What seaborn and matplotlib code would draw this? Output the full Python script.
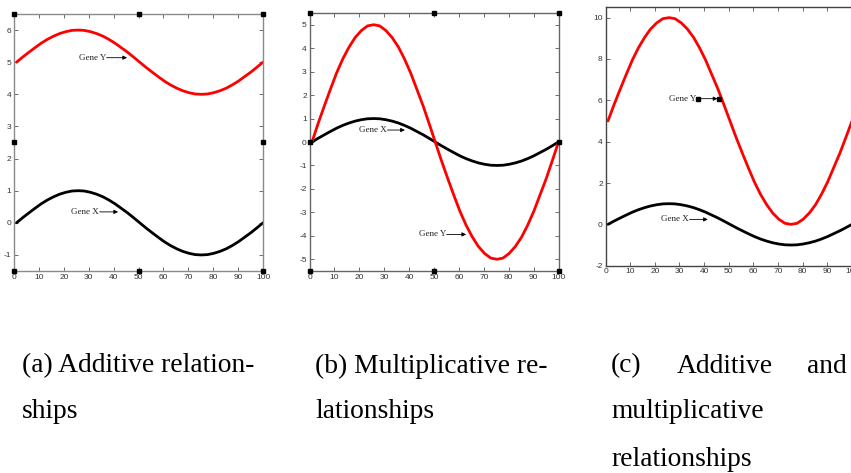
import numpy as np
import pandas as pd
import matplotlib
matplotlib.use("Agg")
import matplotlib.pyplot as plt
import seaborn as sns

# ---- data ----
time_points = [1, 3.5, 6, 8.4, 10.9, 13.4, 15.9, 18.3, 20.8, 23.3, 25.8, 28.2, 30.7,
               33.2, 35.7, 38.1, 40.6, 43.1, 45.6, 48.0, 50.5, 53.0, 55.5, 57.9, 60.4,
               62.9, 65.4, 67.8, 70.3, 72.8, 75.3, 77.7, 80.2, 82.7, 85.2, 87.6, 90.1,
               92.6, 95.1, 97.5, 100]

gene_x = [0, .16, .31, .45, .59, .71, .81, .89, .95, .99, 1, .99, .95, .89, .81, .71,
          .59, .45, .31, .16, 0, -.16, -.31, -.45, -.59, -.71, -.81, -.89, -.95, -.99,
          -1, -.99, -.95, -.89, -.81, -.71, -.59, -.45, -.31, -.16, 0]

gene_y_additive = [5, 5.16, 5.31, 5.45, 5.59, 5.71, 5.81, 5.89, 5.95, 5.99, 6, 5.99,
                   5.95, 5.89, 5.81, 5.71, 5.59, 5.45, 5.31, 5.16, 5, 4.84, 4.69, 4.55,
                   4.41, 4.29, 4.19, 4.11, 4.05, 4.01, 4, 4.01, 4.05, 4.11, 4.19, 4.29,
                   4.41, 4.55, 4.69, 4.84, 5]

gene_y_mult = [0, .8, 1.55, 2.25, 2.95, 3.55, 4.05, 4.45, 4.75, 4.95, 5, 4.95, 4.75,
               4.45, 4.05, 3.55, 2.95, 2.25, 1.55, .8, 0, -.8, -1.55, -2.25, -2.95,
               -3.55, -4.05, -4.45, -4.75, -4.95, -5, -4.95, -4.75, -4.45, -4.05, -3.55,
               -2.95, -2.25, -1.55, -.8, 0]

gene_y_both = [5, 5.8, 6.55, 7.25, 7.95, 8.55, 9.05, 9.45, 9.75, 9.95, 10, 9.95, 9.75,
               9.45, 9.05, 8.55, 7.95, 7.25, 6.55, 5.8, 5, 4.2, 3.45, 2.75, 2.05, 1.45,
               .95, .55, .25, .05, 0, .05, .25, .55, .95, 1.45, 2.05, 2.75, 3.45, 4.2, 5]

x_ticks = [0, 10, 20, 30, 40, 50, 60, 70, 80, 90, 100]
y_ticks_a = [-1, 0, 1, 2, 3, 4, 5, 6]
y_ticks_b = [-5, -4, -3, -2, -1, 0, 1, 2, 3, 4, 5]
y_ticks_c = [-2, 0, 2, 4, 6, 8, 10]

captions_a = ["(a) Additive relation-", "ships"]
captions_b = ["(b) Multiplicative re-", "lationships"]
captions_c_first = ["(c)", "Additive", "and"]
captions_c_rest = ["multiplicative", "relationships"]

sns.set_style("ticks")
plt.rcParams["font.family"] = ["Liberation Sans", "DejaVu Sans"]
plt.rcParams["axes.unicode_minus"] = False

W, H = 851, 473
fig = plt.figure(figsize=(W / 100, H / 100), dpi=100)

def px_axes(left, top, right, bottom):
    return fig.add_axes([left / W, 1 - bottom / H, (right - left) / W, (bottom - top) / H])

ax_a = px_axes(14, 14, 263, 271)
ax_b = px_axes(309.5, 13, 558.5, 271)
ax_c = px_axes(605.5, 7.3, 852, 265.7)

panels = [
    (ax_a, gene_y_additive, (-1.5, 6.5), y_ticks_a, "#8a8a8a", True),
    (ax_b, gene_y_mult, (-5.5, 5.5), y_ticks_b, "#666666", True),
    (ax_c, gene_y_both, (-2, 10.5), y_ticks_c, "#444444", False),
]

for ax, gy, ylim, yt, spc, right_ticks in panels:
    df = pd.DataFrame({"t": time_points, "X": gene_x, "Y": gy})
    sns.lineplot(data=df, x="t", y="X", color="black", lw=2.0, ax=ax)
    sns.lineplot(data=df, x="t", y="Y", color="#ff0000", lw=2.0, ax=ax)
    ax.set_xlim(0, 100)
    ax.set_ylim(*ylim)
    ax.set_xticks(x_ticks)
    ax.set_yticks(yt)
    ax.set_xlabel("")
    ax.set_ylabel("")
    ax.tick_params(direction="in", length=3, width=0.6, colors="#555555",
                   labelsize=6, labelcolor="#333333", pad=2,
                   top=True, right=right_ticks)
    for s in ax.spines.values():
        s.set_color(spc)
        s.set_linewidth(1.0)
        s.set_visible(True)

# selection-handle squares on panels a and b (decorations)
for ax in (ax_a, ax_b):
    for hx, hy in [(0, 0), (0.5, 0), (1, 0), (0, 0.5), (1, 0.5), (0, 1), (0.5, 1), (1, 1)]:
        ax.plot([hx], [hy], marker="s", ms=3.2, color="black", transform=ax.transAxes,
                clip_on=False, zorder=5)

serif = ["Liberation Serif", "DejaVu Serif"]

def gene_label(ax, name, text_end_x, arrow_end_x, y, handles=False):
    ax.text(text_end_x, y, name, ha="right", va="center", fontsize=6.5,
            family=serif, color="#222222")
    ax.annotate("", xy=(arrow_end_x, y), xytext=(text_end_x + 0.3, y),
                arrowprops=dict(arrowstyle="-|>", color="black", lw=0.6,
                                mutation_scale=6, shrinkA=0, shrinkB=0))
    if handles:
        ax.plot([text_end_x + 0.5, arrow_end_x + 0.5], [y, y], ls="none", marker="s",
                ms=2.5, color="black")

gene_label(ax_a, "Gene Y", 36.9, 45.4, 5.14)
gene_label(ax_a, "Gene X", 34.1, 41.8, 0.34)
gene_label(ax_b, "Gene X", 31.0, 38.3, 0.51)
gene_label(ax_b, "Gene Y", 54.8, 62.9, -3.94)
gene_label(ax_c, "Gene Y", 37.0, 45.4, 6.08, handles=True)
gene_label(ax_c, "Gene X", 33.8, 41.5, 0.24)

# captions
cap_fs = 19.8
def cap(x, y, s, ha="left"):
    fig.text(x / W, 1 - y / H, s, ha=ha, va="center", fontsize=cap_fs, family=serif,
             color="black")

line_y = [366, 411, 459]
cap(22, line_y[0], captions_a[0])
cap(22, line_y[1], captions_a[1])
cap(315, line_y[0], captions_b[0])
cap(315, line_y[1], captions_b[1])
cap(611, line_y[0], captions_c_first[0])
cap(725, line_y[0], captions_c_first[1], ha="center")
cap(847, line_y[0], captions_c_first[2], ha="right")
cap(611, line_y[1], captions_c_rest[0])
cap(611, line_y[2], captions_c_rest[1])

fig.savefig("out.png", dpi=100)
